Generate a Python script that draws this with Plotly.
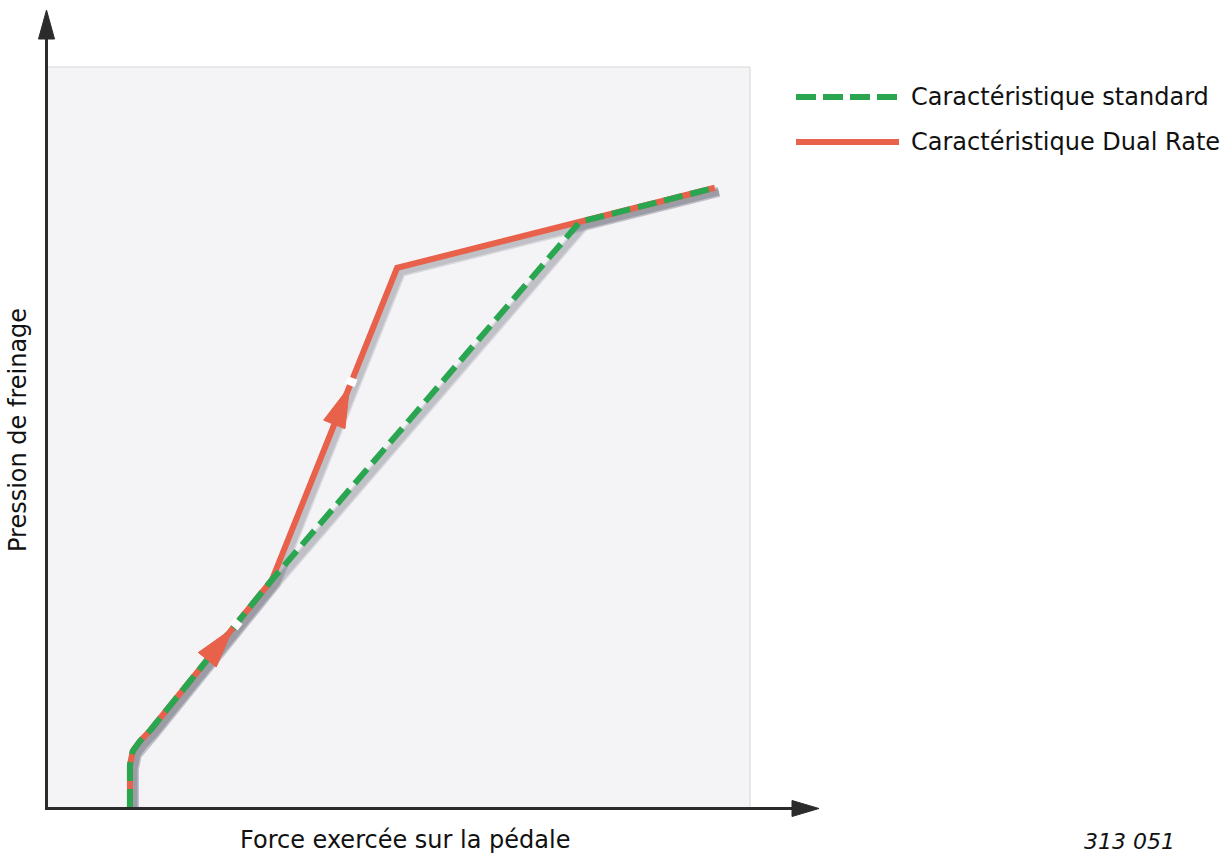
import math
import plotly.graph_objects as go

# ---------------- data (arbitrary units: force vs. braking pressure) ----------------
force_common = [11.8, 11.8, 12.2, 13.2, 14.7, 32.0]
pressure_common = [0.0, 5.8, 7.7, 9.0, 10.5, 30.8]

force_dual = force_common + [49.8, 75.8, 95.0]
pressure_dual = pressure_common + [72.9, 79.1, 83.7]

force_standard = force_common + [75.8, 95.0]
pressure_standard = pressure_common + [79.1, 83.7]

# direction arrows on the Dual Rate curve: (segment start index, fraction along segment)
arrow_segments = [4, 5]
arrow_fractions = [0.68, 0.62]

series_names = ["Caractéristique standard", "Caractéristique Dual Rate"]
x_title = "Force exercée sur la pédale"
y_title = "Pression de freinage"
figure_ref = "313 051"

# ---------------- layout geometry ----------------
W, H = 1229, 854
L_PX, R_PX, T_PX, B_PX = 47, 820, 12, 808        # plot area in page pixels
BOX_RIGHT_PX, BOX_TOP_PX = 750, 67               # grey panel
XMAX_BOX, YMAX_BOX = 100.0, 100.0
SX = (BOX_RIGHT_PX - L_PX) / XMAX_BOX             # px per x unit
SY = (B_PX - BOX_TOP_PX) / YMAX_BOX               # px per y unit
x_range = [0, (R_PX - L_PX) / SX]
y_range = [0, (B_PX - T_PX) / SY]

GREEN = "#2ba650"
RED = "#e8614b"
SHADOW = "rgba(80,80,95,0.17)"
AXIS = "#2b2b2b"
FONT = "DejaVu Sans"
FS = 24


def px(xp):
    return (xp - L_PX) / (R_PX - L_PX)


def py(yp):
    return (B_PX - yp) / (B_PX - T_PX)


fig = go.Figure()

# soft shadows
for dpx, wd in [(4, 10), (4, 7)]:
    dx_sh, dy_sh = dpx / SX, -dpx / SY
    fig.add_trace(go.Scatter(x=[v + dx_sh for v in force_dual], y=[v + dy_sh for v in pressure_dual],
                             mode="lines", line=dict(color=SHADOW, width=wd), hoverinfo="skip", showlegend=False))
    fig.add_trace(go.Scatter(x=[v + dx_sh for v in force_standard], y=[v + dy_sh for v in pressure_standard],
                             mode="lines", line=dict(color=SHADOW, width=wd), hoverinfo="skip", showlegend=False))

# main curves (red below, green dashed on top)
fig.add_trace(go.Scatter(x=force_dual, y=pressure_dual, mode="lines", name=series_names[1],
                         line=dict(color=RED, width=6), showlegend=False))
fig.add_trace(go.Scatter(x=force_standard, y=pressure_standard, mode="lines", name=series_names[0],
                         line=dict(color=GREEN, width=6, dash="19px,8px"), showlegend=False))

shapes = []
# grey panel
shapes.append(dict(type="rect", xref="x", yref="y", x0=0, x1=XMAX_BOX, y0=0, y1=YMAX_BOX,
                   fillcolor="#f4f4f7", line=dict(color="#d6d6d6", width=1), layer="below"))

# arrowheads on the dual-rate curve
for seg, frac in zip(arrow_segments, arrow_fractions):
    x0, y0 = force_dual[seg], pressure_dual[seg]
    x1, y1 = force_dual[seg + 1], pressure_dual[seg + 1]
    tx, ty = x0 + frac * (x1 - x0), y0 + frac * (y1 - y0)
    ux, uy = (x1 - x0) * SX, (y1 - y0) * SY
    n = math.hypot(ux, uy)
    ux, uy = ux / n, uy / n
    nx, ny = -uy, ux
    Lh, Wh = 41, 11.5
    bx, by = -Lh * ux, -Lh * uy
    path = "M 0,0 L {:.2f},{:.2f} L {:.2f},{:.2f} Z".format(bx + Wh * nx, by + Wh * ny, bx - Wh * nx, by - Wh * ny)
    # white gap in front of the tip
    shapes.append(dict(type="line", xref="x", yref="y", xsizemode="pixel", ysizemode="pixel",
                       xanchor=tx, yanchor=ty, x0=1 * ux, y0=1 * uy, x1=9 * ux, y1=9 * uy,
                       line=dict(color="white", width=10)))
    shapes.append(dict(type="path", xref="x", yref="y", xsizemode="pixel", ysizemode="pixel",
                       xanchor=tx, yanchor=ty, path=path, fillcolor=RED, line=dict(color=RED, width=1)))

# axes with arrowheads
shapes.append(dict(type="line", xref="paper", yref="paper", x0=px(46.5), x1=px(46.5), y0=py(809), y1=py(36),
                   line=dict(color=AXIS, width=3)))
shapes.append(dict(type="path", xref="paper", yref="paper",
                   path="M {},{} L {},{} L {},{} Z".format(px(46.5), py(10), px(38.5), py(39), px(54.5), py(39)),
                   fillcolor=AXIS, line=dict(color=AXIS, width=1)))
shapes.append(dict(type="line", xref="paper", yref="paper", x0=px(45), x1=px(794), y0=py(808.5), y1=py(808.5),
                   line=dict(color=AXIS, width=3)))
shapes.append(dict(type="path", xref="paper", yref="paper",
                   path="M {},{} L {},{} L {},{} Z".format(px(819), py(808.5), px(792), py(800.5), px(792), py(816.5)),
                   fillcolor=AXIS, line=dict(color=AXIS, width=1)))

# legend samples
shapes.append(dict(type="line", xref="paper", yref="paper", x0=px(796), x1=px(899), y0=py(97), y1=py(97),
                   line=dict(color=GREEN, width=6, dash="20px,7px")))
shapes.append(dict(type="line", xref="paper", yref="paper", x0=px(796), x1=px(899), y0=py(142), y1=py(142),
                   line=dict(color=RED, width=6)))

annotations = [
    dict(text=series_names[0], xref="paper", yref="paper", x=px(909), y=py(97), xanchor="left", yanchor="middle",
         showarrow=False, font=dict(family=FONT, size=FS, color="#111")),
    dict(text=series_names[1], xref="paper", yref="paper", x=px(909), y=py(142), xanchor="left", yanchor="middle",
         showarrow=False, font=dict(family=FONT, size=FS, color="#111")),
    dict(text=x_title, xref="paper", yref="paper", x=px(405), y=py(840), xanchor="center", yanchor="middle",
         showarrow=False, font=dict(family=FONT, size=FS, color="#111")),
    dict(text=y_title, xref="paper", yref="paper", x=px(18), y=py(430), xanchor="center", yanchor="middle",
         textangle=-90, showarrow=False, font=dict(family=FONT, size=FS, color="#111")),
    dict(text="<i>" + figure_ref + "</i>", xref="paper", yref="paper", x=px(1129), y=py(841),
         xanchor="center", yanchor="middle", showarrow=False, font=dict(family=FONT, size=22, color="#111")),
]

fig.update_layout(
    width=W, height=H,
    margin=dict(l=L_PX, r=W - R_PX, t=T_PX, b=H - B_PX),
    paper_bgcolor="white", plot_bgcolor="rgba(0,0,0,0)",
    xaxis=dict(range=x_range, visible=False, fixedrange=True),
    yaxis=dict(range=y_range, visible=False, fixedrange=True),
    shapes=shapes, annotations=annotations, showlegend=False,
)

# remove the browser's default page margin so the figure fills the window exactly
fig.write_html("out.html", config={"displayModeBar": False},
               post_script="document.body.style.margin='0';document.body.style.overflow='hidden';")
